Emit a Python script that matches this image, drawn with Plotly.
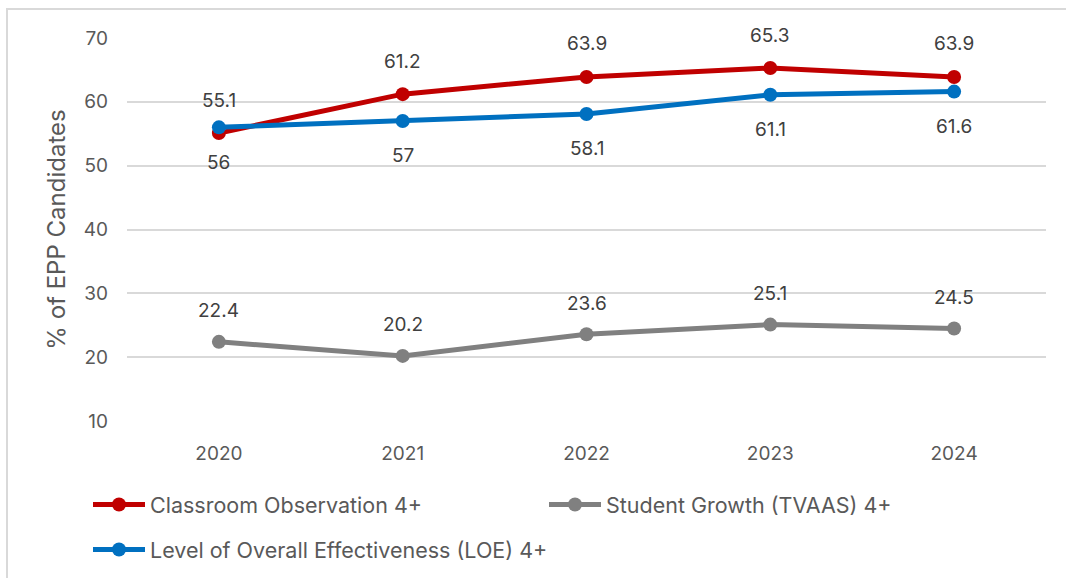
import plotly.graph_objects as go

years = ["2020", "2021", "2022", "2023", "2024"]
classroom = [55.1, 61.2, 63.9, 65.3, 63.9]
growth = [22.4, 20.2, 23.6, 25.1, 24.5]
loe = [56, 57, 58.1, 61.1, 61.6]

RED = "#C00000"
GRAY = "#808080"
BLUE = "#0070C0"
FONT = "Inter, Open Sans, sans-serif"
TXT = "#595959"

W, H = 1066, 578
ML, MR, MT, MB = 127, 20, 38, 157
PW = W - ML - MR
PH = H - MT - MB

fig = go.Figure()
fig.add_trace(go.Scatter(x=years, y=classroom, name="Classroom Observation 4+",
                         mode="lines+markers", line=dict(color=RED, width=5),
                         marker=dict(size=14, color=RED), legend="legend"))
fig.add_trace(go.Scatter(x=years, y=growth, name="Student Growth (TVAAS) 4+",
                         mode="lines+markers", line=dict(color=GRAY, width=5),
                         marker=dict(size=14, color=GRAY), legend="legend"))
fig.add_trace(go.Scatter(x=years, y=loe, name="Level of Overall Effectiveness (LOE) 4+",
                         mode="lines+markers", line=dict(color=BLUE, width=5),
                         marker=dict(size=14, color=BLUE), legend="legend2"))

annotations = []
for vals, shift in ((classroom, 33), (growth, 31), (loe, -35)):
    for i, v in enumerate(vals):
        annotations.append(dict(x=i, y=v, xref="x", yref="y", text=f"{v:g}",
                                showarrow=False, yshift=shift,
                                font=dict(family=FONT, size=19, color="#404040")))

def px_x(p):
    return (p - ML) / PW

def px_y(p):
    return (H - MB - p) / PH

fig.update_layout(
    width=W, height=H,
    margin=dict(l=ML, r=MR, t=MT, b=MB, autoexpand=False),
    paper_bgcolor="white", plot_bgcolor="white",
    font=dict(family=FONT, size=19, color=TXT),
    annotations=annotations,
    shapes=[dict(type="rect", xref="paper", yref="paper",
                 x0=px_x(7), x1=px_x(1075), y0=px_y(590), y1=px_y(9),
                 line=dict(color="#d9d9d9", width=2), layer="below")],
    xaxis=dict(type="category", range=[-0.5, 4.5], autorange=False,
               showgrid=False, zeroline=False, showline=False,
               ticks="", ticklabelstandoff=19, tickfont=dict(size=19, color=TXT)),
    yaxis=dict(range=[10, 70], autorange=False, dtick=10, tick0=10, showgrid=True,
               gridcolor="#d9d9d9", gridwidth=1.5, zeroline=False, showline=False,
               ticks="", ticklabelstandoff=18, tickfont=dict(size=19, color=TXT),
               title=dict(text="% of EPP Candidates", font=dict(size=24, color=TXT),
                          standoff=11)),
    legend=dict(orientation="h", x=px_x(88), y=px_y(484), xanchor="left", yanchor="top",
                itemwidth=52, entrywidth=389, entrywidthmode="pixels",
                font=dict(size=21.5, color=TXT), bgcolor="rgba(0,0,0,0)"),
    legend2=dict(orientation="h", x=px_x(88), y=px_y(529), xanchor="left", yanchor="top",
                 itemwidth=52, font=dict(size=21.5, color=TXT), bgcolor="rgba(0,0,0,0)"),
)

fig.write_html("out.html")
